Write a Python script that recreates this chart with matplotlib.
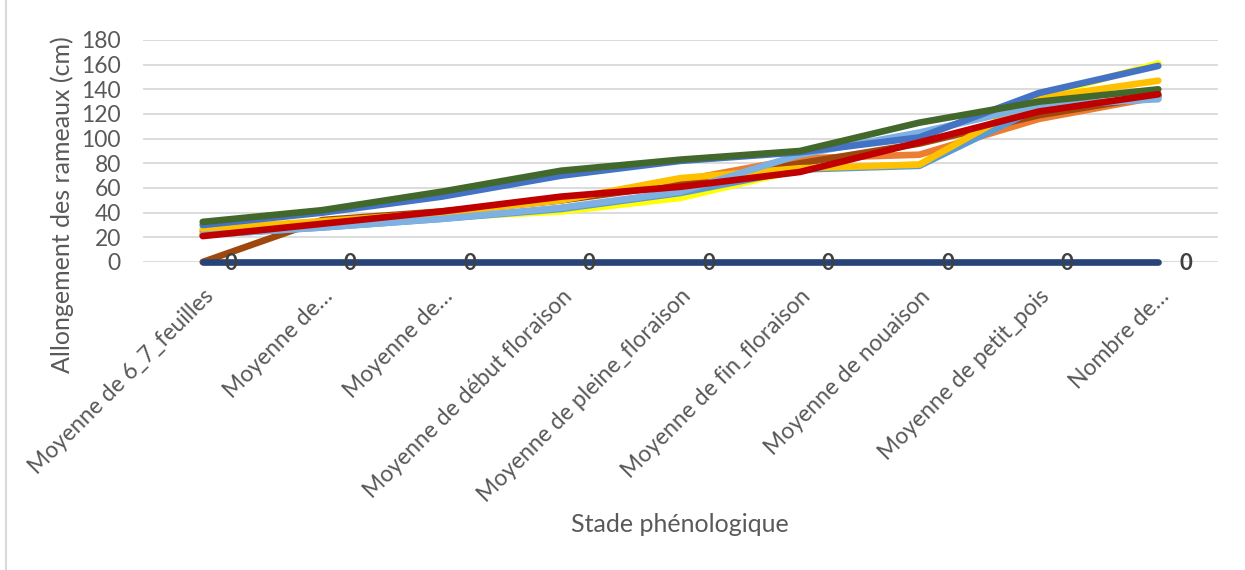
import matplotlib
matplotlib.use("Agg")
import matplotlib.pyplot as plt
from matplotlib.lines import Line2D

plt.rcParams['font.family'] = ['Lato', 'DejaVu Sans']

categories = ["Moyenne de 6_7_feuilles", "Moyenne de…", "Moyenne de…",
              "Moyenne de début floraison", "Moyenne de pleine_floraison",
              "Moyenne de fin_floraison", "Moyenne de nouaison",
              "Moyenne de petit_pois", "Nombre de…"]

s_yellow = [24, 31, 36, 41, 52, 75, 79, 134, 161]
s_orange = [25, 33, 40, 50, 66, 84, 87, 116, 134]
s_brown = [0, 34, 41, 50, 63, 80, 96, 119, 135]
s_midblue = [22, 28, 35, 43, 56, 75, 78, 125, 133]
s_gold = [27, 33, 40, 50, 68, 76, 79, 133, 147]
s_lightblue = [22, 28, 35, 44, 57, 87, 105, 127, 132]
s_blue = [30, 40, 53, 70, 82, 89, 101, 137, 159]
s_green = [32.5, 42, 57, 74, 83, 90, 113, 130, 140]
s_red = [21, 31, 41, 53, 61, 73, 97, 122, 136]
s_navy = [0, 0, 0, 0, 0, 0, 0, 0, 0]

series = [
    (s_yellow, "#FFFF00"),
    (s_orange, "#ED7D31"),
    (s_brown, "#9E480E"),
    (s_midblue, "#5B9BD5"),
    (s_gold, "#FFC000"),
    (s_lightblue, "#7EB1E1"),
    (s_blue, "#4472C4"),
    (s_green, "#43682B"),
    (s_red, "#C00000"),
    (s_navy, "#264478"),
]

W, H = 1245, 570
fig = plt.figure(figsize=(W / 100, H / 100), dpi=100)
ax = fig.add_axes([143 / W, 1 - 262 / H, (1218 - 143) / W, (262 - 40) / H])

x = list(range(len(categories)))
for i, (vals, col) in enumerate(series):
    ax.plot(x, vals, color=col, lw=4.8, solid_capstyle='round',
            solid_joinstyle='round', zorder=3 + i, clip_on=False)

for xi, v in zip(x, s_navy):
    ax.annotate(f"{v:g}", (xi, v), xytext=(28, -2), textcoords='offset pixels',
                ha='center', va='center', fontsize=16, fontweight='bold',
                color='#404040', zorder=20, annotation_clip=False)

ax.set_xlim(-0.5, len(categories) - 0.5)
ax.set_ylim(0, 180)
ax.set_yticks(range(0, 181, 20))
ax.grid(axis='y', color='#D9D9D9', lw=1.3, zorder=0)
ax.set_axisbelow(True)
for sp in ax.spines.values():
    sp.set_visible(False)
ax.tick_params(axis='both', length=0, colors='#595959', labelsize=16.5)
ax.tick_params(axis='y', pad=16)
ax.tick_params(axis='x', pad=17)
ax.set_xticks(x)
ax.set_xticklabels(categories, rotation=45, ha='right', rotation_mode='anchor')

fig.text(680 / W, 1 - 525 / H, "Stade phénologique", ha='center', va='center',
         fontsize=18, color='#595959')
fig.text(62 / W, 1 - 205 / H, "Allongement des rameaux (cm)", ha='center',
         va='center', rotation=90, fontsize=18, color='#595959')

fig.add_artist(Line2D([6 / W, 6 / W], [0, 1], color='#D9D9D9', lw=1.5))

fig.savefig("out.png", dpi=100)
